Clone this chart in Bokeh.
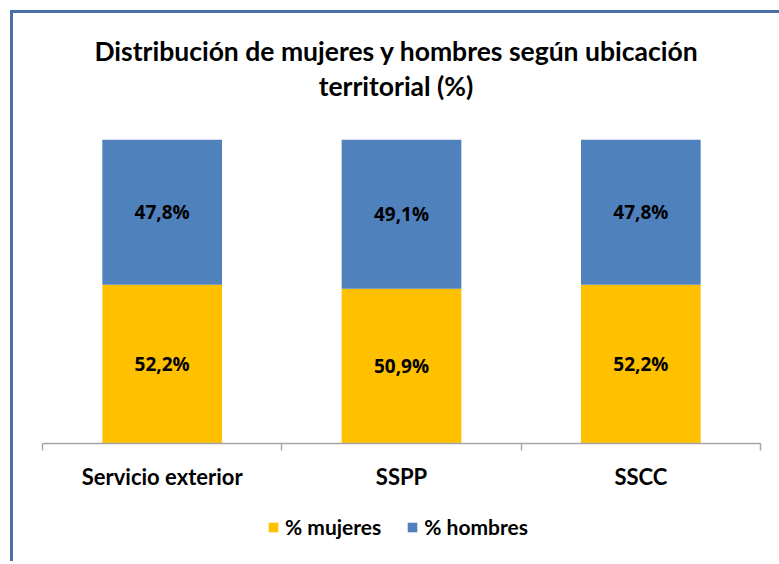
from bokeh.plotting import figure
from bokeh.layouts import column
from bokeh.models import ColumnDataSource, FixedTicker, Legend, LegendItem, Range1d, Div
from bokeh.core.properties import value
from bokeh.embed import file_html
from bokeh.resources import INLINE

title_lines = ["Distribución de mujeres y hombres según ubicación", "territorial (%)"]
categories = ["Servicio exterior", "SSPP", "SSCC"]
mujeres = [52.2, 50.9, 52.2]
hombres = [47.8, 49.1, 47.8]
series_names = ["% mujeres", "% hombres"]
colors = ["#FFC000", "#4F81BD"]

xs = [i + 0.5 for i in range(len(categories))]
src = ColumnDataSource(dict(
    x=xs, mujeres=mujeres, hombres=hombres,
    m_mid=[m / 2 for m in mujeres],
    h_mid=[m + h / 2 for m, h in zip(mujeres, hombres)],
    m_lab=[f"{m:.1f}%".replace(".", ",") for m in mujeres],
    h_lab=[f"{h:.1f}%".replace(".", ",") for h in hombres],
))

W = 766

title = Div(text="<br>".join(title_lines), width=W, height=126, margin=(0, 0, 0, 0),
            styles={"text-align": "center", "font-family": "Lato", "font-weight": "bold",
                    "font-size": "26.5px", "line-height": "35px", "color": "#000000",
                    "padding-top": "21px", "box-sizing": "border-box"})

p = figure(width=W, height=361, output_backend="svg", toolbar_location=None,
           x_range=Range1d(0, len(categories)), y_range=Range1d(0, 100),
           min_border_left=29, min_border_right=19, min_border_top=0, min_border_bottom=57)
p.outline_line_color = None
p.xgrid.visible = False
p.ygrid.visible = False
p.yaxis.visible = False

p.vbar_stack(["mujeres", "hombres"], x="x", width=0.5, source=src,
             color=colors, line_color=None)

for ycol, lcol in (("m_mid", "m_lab"), ("h_mid", "h_lab")):
    p.text(x="x", y=ycol, text=lcol, source=src, text_align="center",
           text_baseline="middle", text_font=value("Open Sans"),
           text_font_style="bold", text_font_size="19px", text_color="#000000")

ax = p.xaxis[0]
ax.ticker = FixedTicker(ticks=xs, minor_ticks=list(range(len(categories) + 1)))
ax.major_label_overrides = {x: c for x, c in zip(xs, categories)}
ax.major_tick_line_color = None
ax.major_tick_out = 0
ax.major_tick_in = 0
ax.minor_tick_line_color = "#A6A6A6"
ax.minor_tick_out = 7
ax.minor_tick_in = 0
ax.axis_line_color = "#A6A6A6"
ax.axis_line_width = 1.5
ax.minor_tick_line_width = 1.5
ax.major_label_standoff = 12
ax.major_label_text_font = "Lato"
ax.major_label_text_font_style = "bold"
ax.major_label_text_font_size = "22px"
ax.major_label_text_color = "#000000"

# legend strip below the chart (its renderers are hidden, only the legend shows)
lf = figure(width=W, height=61, output_backend="svg", toolbar_location=None,
            x_range=Range1d(0, len(categories)), y_range=Range1d(0, 100),
            x_axis_location=None, y_axis_location=None,
            min_border_left=0, min_border_right=0, min_border_top=0, min_border_bottom=0)
lf.outline_line_color = None
lf.grid.visible = False
lf_renderers = lf.vbar_stack(["mujeres", "hombres"], x="x", width=0.5, source=src,
                             color=colors, line_color=None)
for r in lf_renderers:
    r.visible = False
legend = Legend(items=[LegendItem(label=n, renderers=[r]) for n, r in zip(series_names, lf_renderers)],
                orientation="horizontal", location=(225, 22), click_policy="none",
                label_text_font="Lato", label_text_font_style="bold",
                label_text_font_size="21px", label_text_color="#000000",
                glyph_width=12, glyph_height=12, label_standoff=6, spacing=25,
                label_height=20, border_line_color=None, background_fill_alpha=0,
                margin=0, padding=0)
lf.add_layout(legend)

layout = column(title, p, lf, spacing=0,
                styles={"border-top": "3px solid #4A6EA8", "border-left": "3px solid #4A6EA8",
                        "margin-left": "10px", "margin-top": "10px"})

open("out.html", "w").write(file_html(layout, INLINE))
